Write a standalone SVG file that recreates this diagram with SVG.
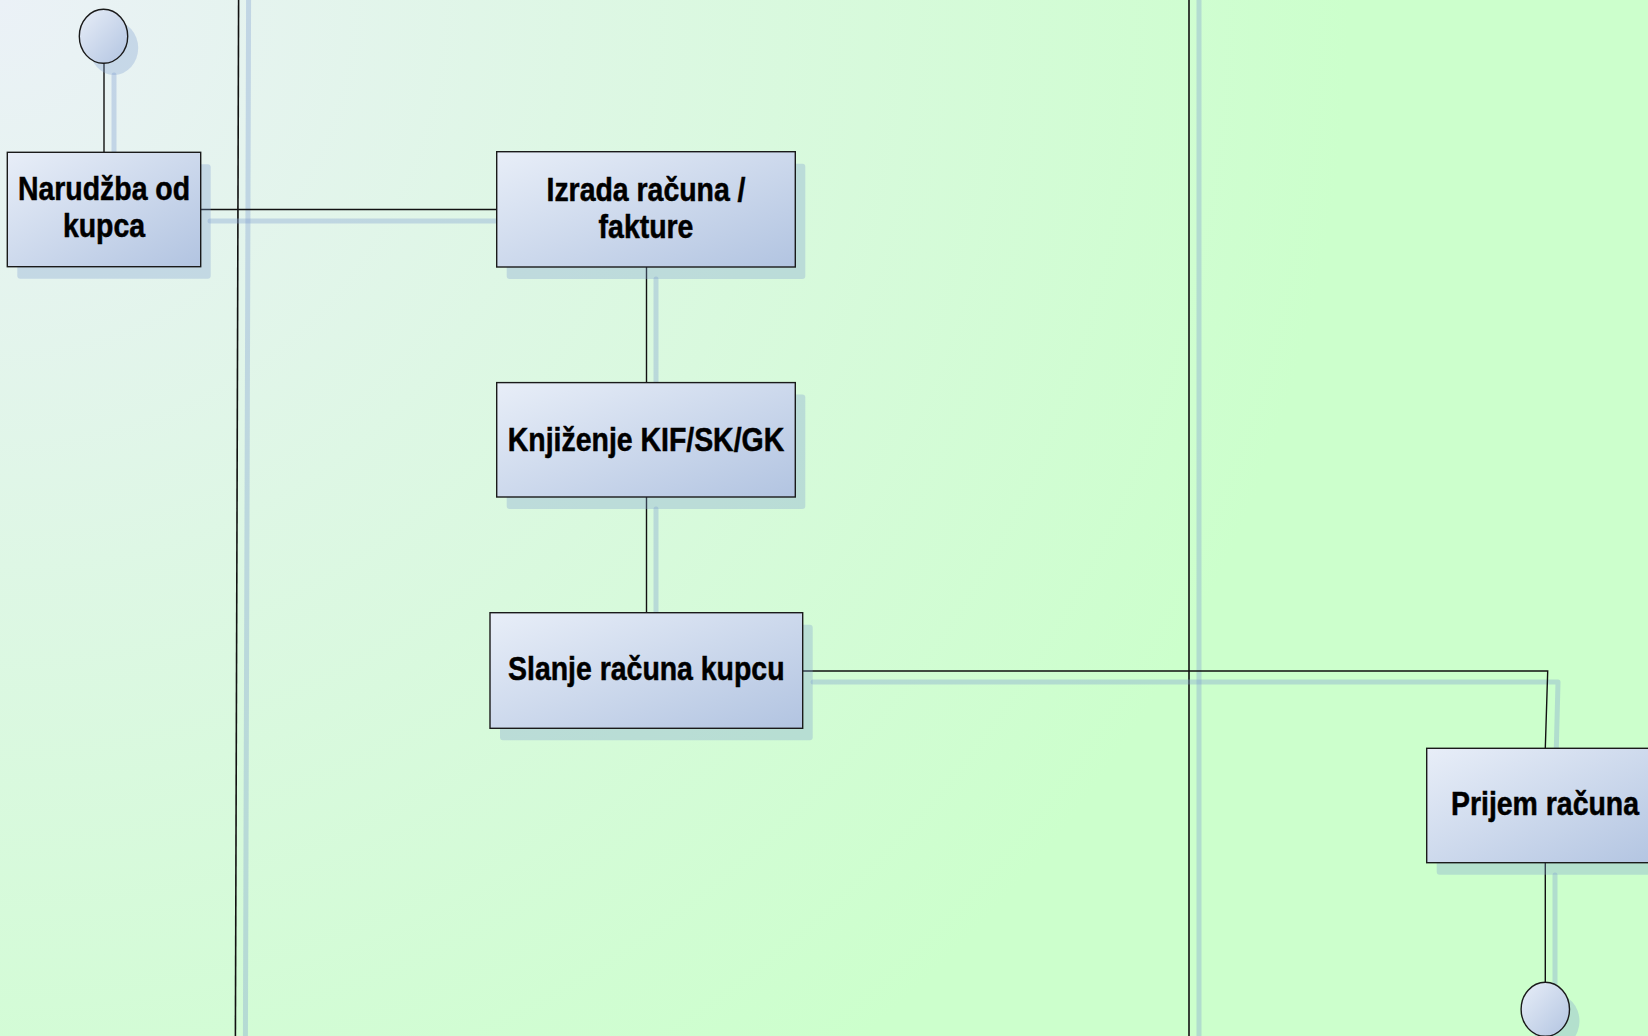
<svg xmlns="http://www.w3.org/2000/svg" width="1648" height="1036" viewBox="0 0 1648 1036">
<defs>
<radialGradient id="bg" cx="0" cy="0" r="1350" gradientUnits="userSpaceOnUse">
<stop offset="0" stop-color="#ebf1f7"/>
<stop offset="1" stop-color="#ccffcc"/>
</radialGradient>
<linearGradient id="boxfill" x1="0" y1="0" x2="1" y2="1">
<stop offset="0" stop-color="#e8eef8"/>
<stop offset="1" stop-color="#b2c4e1"/>
</linearGradient>
<style>
.box{fill:url(#boxfill);stroke:#1a1a1a;stroke-width:1.4}
.shadow{fill:#7f9fd0;fill-opacity:0.32}
.sline{fill:none;stroke:#7f9fd0;stroke-opacity:0.35;stroke-width:5;stroke-linecap:round;stroke-linejoin:round}
.conn{fill:none;stroke:#111;stroke-width:1.4}
.lane{fill:none;stroke:#111;stroke-width:1.6}
.lbl{font-family:"Liberation Sans",Arial,sans-serif;font-weight:bold;font-size:32.5px;fill:#000;stroke:#000;stroke-width:0.5;text-anchor:middle}
</style>
</defs>
<rect x="0" y="0" width="1648" height="1036" fill="url(#bg)"/>

<g id="lanes">
<line class="sline" x1="248.6" y1="-5" x2="245.4" y2="1041"/>
<line class="sline" x1="1199" y1="-5" x2="1199" y2="1041"/>
<line class="lane" x1="238.6" y1="0" x2="235.4" y2="1036"/>
<line class="lane" x1="1189" y1="0" x2="1189" y2="1036"/>
</g>

<g id="connector-shadows">
<polyline class="sline" points="114,75 114,164"/>
<polyline class="sline" points="210,221 507,221"/>
<polyline class="sline" points="656,279 656,394"/>
<polyline class="sline" points="656,509 656,624"/>
<polyline class="sline" points="813,682 1558,682 1556,760"/>
<polyline class="sline" points="1555,875 1555,994"/>
</g>

<g id="connectors">
<polyline class="conn" points="104,63 104,152.3"/>
<polyline class="conn" points="200.7,209.5 496.7,209.5"/>
<polyline class="conn" points="646.5,267 646.5,382.6"/>
<polyline class="conn" points="646.5,497 646.5,612.7"/>
<polyline class="conn" points="802.7,671 1547.7,671 1545.3,748.3"/>
<polyline class="conn" points="1545.3,862.7 1545.3,982.3"/>
</g>

<g id="start">
<ellipse class="shadow" cx="114" cy="48" rx="24.2" ry="27"/>
<ellipse class="box" cx="103.5" cy="36.3" rx="24.2" ry="27"/>
</g>

<g id="narudzba">
<rect class="shadow" x="17.3" y="164.3" width="193.4" height="114.4" rx="3"/>
<rect class="box" x="7.3" y="152.3" width="193.4" height="114.4"/>
<g transform="translate(104,0) scale(0.875,1)">
<text class="lbl" x="0" y="200">Narudžba od</text>
<text class="lbl" x="0" y="237.5">kupca</text>
</g>
</g>

<g id="izrada">
<rect class="shadow" x="506.7" y="163.7" width="298.6" height="115.3" rx="3"/>
<rect class="box" x="496.7" y="151.7" width="298.6" height="115.3"/>
<g transform="translate(646,0) scale(0.875,1)">
<text class="lbl" x="0" y="201">Izrada računa /</text>
<text class="lbl" x="0" y="238">fakture</text>
</g>
</g>

<g id="knjizenje">
<rect class="shadow" x="506.7" y="394.6" width="298.6" height="114.4" rx="3"/>
<rect class="box" x="496.7" y="382.6" width="298.6" height="114.4"/>
<g transform="translate(646,0) scale(0.875,1)">
<text class="lbl" x="0" y="451">Knjiženje KIF/SK/GK</text>
</g>
</g>

<g id="slanje">
<rect class="shadow" x="500" y="624.7" width="312.7" height="115.6" rx="3"/>
<rect class="box" x="490" y="612.7" width="312.7" height="115.6"/>
<g transform="translate(646.3,0) scale(0.875,1)">
<text class="lbl" x="0" y="680.5">Slanje računa kupcu</text>
</g>
</g>

<g id="prijem">
<rect class="shadow" x="1436.7" y="760.3" width="237" height="114.4" rx="3"/>
<rect class="box" x="1426.7" y="748.3" width="237" height="114.4"/>
<g transform="translate(1545,0) scale(0.875,1)">
<text class="lbl" x="0" y="815.5">Prijem računa</text>
</g>
</g>

<g id="end">
<ellipse class="shadow" cx="1555.3" cy="1021" rx="24.2" ry="27"/>
<ellipse class="box" cx="1545.3" cy="1009.3" rx="24.2" ry="27"/>
</g>
</svg>
